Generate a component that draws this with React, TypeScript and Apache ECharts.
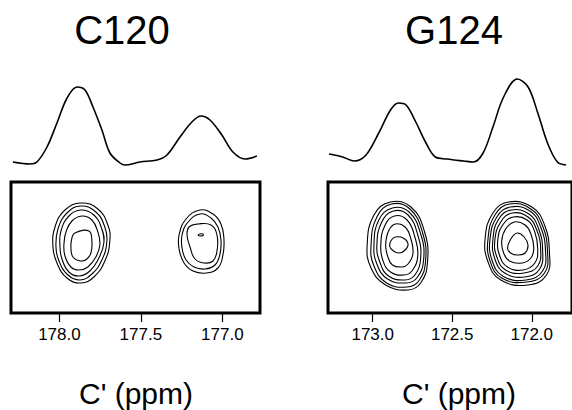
import { useEffect, useRef } from "react";
import * as echarts from "echarts";

// ---------- 1D C' traces (ppm, intensity) ----------
const C120_PPM = [178.285, 178.18, 178.138, 178.076, 178.015, 177.953, 177.892, 177.843, 177.794, 177.739, 177.69, 177.628, 177.598, 177.506, 177.401, 177.34, 177.26, 177.187, 177.131, 177.076, 177.003, 176.935, 176.861, 176.788];
const C120_INT = [8, 6, 8, 23, 47, 72, 83, 80, 63, 40, 17, 7, 5, 8, 10, 15, 33, 48, 54, 50, 35, 18, 11, 14];
const G124_PPM = [173.275, 173.189, 173.115, 173.042, 172.962, 172.888, 172.839, 172.79, 172.729, 172.668, 172.606, 172.533, 172.428, 172.367, 172.306, 172.244, 172.177, 172.091, 172.023, 171.962, 171.901, 171.839, 171.784];
const G124_INT = [16, 13, 9, 15, 37, 60, 67, 65, 48, 28, 13, 11, 9, 8, 17, 43, 73, 91, 83, 57, 27, 8, 5];

// ---------- axis ranges and ticks ----------
const C120_RANGE = [176.769, 178.297];
const G124_RANGE = [171.747, 173.281];
const C120_TICKS = [177.0, 177.5, 178.0];
const G124_TICKS = [172.0, 172.5, 173.0];
const F1_RANGE = [0, 131];
const INT_RANGE = [0, 100];

// 13C frequency (MHz) used to turn Hz offsets into ppm
const SF_MHZ = 163.4;

// ---------- 2D contour peaks: centre [ppm, F1] and rings of [offset Hz (upfield), offset F1] ----------
const C120_PEAK_A = [177.868, 70];
const C120_RINGS_A = [
  [[0, 40], [17, 34], [27, 18], [29, 2], [24, -18], [13, -34], [0, -40], [-14, -35], [-24, -20], [-28, -4], [-26, 16], [-16, 33]],
  [[0, 37], [15, 31], [24, 16], [26, 1], [21, -17], [11, -31], [-1, -37], [-13, -32], [-22, -18], [-25, -4], [-23, 14], [-14, 30]],
  [[0, 33], [13, 28], [21, 14], [23, 0], [18, -15], [9, -28], [-2, -33], [-12, -29], [-19, -16], [-21, -3], [-20, 12], [-12, 27]],
  [[1, 27], [11, 23], [17, 11], [19, -2], [15, -14], [7, -24], [-2, -27], [-10, -24], [-16, -13], [-17, -1], [-15, 11], [-9, 22]],
  [[-6, 10], [8, 12], [11, 2], [10, -10], [6, -16], [0, -18], [-8, -14], [-10, -4], [-9, 5]],
];
const C120_PEAK_B = [177.131, 72];
const C120_RINGS_B = [
  [[-1, 31], [12, 27], [20, 17], [23, 2], [22, -14], [17, -27], [5, -32], [-8, -30], [-17, -22], [-22, -8], [-22, 6], [-15, 22]],
  [[-1, 27], [10, 23], [17, 14], [20, 1], [19, -13], [14, -24], [4, -28], [-7, -26], [-15, -19], [-19, -7], [-19, 6], [-13, 19]],
  [[-12, 14], [-3, 17], [10, 16], [16, 6], [16, -10], [12, -20], [3, -22], [-6, -18], [-11, -6], [-14, 6]],
  [[-3, 6], [-1, 7], [2, 7], [2, 5.5], [-1, 5]],
];
const G124_PEAK_C = [172.839, 67];
const G124_RINGS_C = [
  [[-8, 44], [13, 39], [27, 14], [30, -16], [23, -37], [10, -44], [-13, -39], [-28, -22], [-32, 1], [-25, 31]],
  [[-7, 42], [12, 37], [25, 13], [28, -15], [21, -35], [9, -41], [-12, -37], [-25, -20], [-28, 1], [-22, 29]],
  [[-6, 38], [11, 34], [23, 12], [26, -14], [19, -32], [8, -37], [-11, -33], [-22, -18], [-25, 1], [-20, 26]],
  [[-5, 35], [10, 31], [20, 11], [23, -12], [17, -29], [7, -34], [-10, -30], [-19, -16], [-22, 1], [-17, 24]],
  [[-4, 30], [9, 26], [17, 9], [20, -10], [14, -25], [6, -29], [-8, -26], [-16, -14], [-18, 1], [-14, 20]],
  [[-3, 22], [7, 19], [13, 7], [15, -8], [10, -18], [4, -21], [-6, -19], [-11, -10], [-13, 1], [-10, 15]],
  [[-3, 9], [5, 8], [10, 2], [7, -4], [1, -7], [-5, -5], [-9, 0], [-7, 6]],
];
const G124_PEAK_D = [172.091, 69];
const G124_RINGS_D = [
  [[-9, 42], [15, 37], [28, 19], [33, -8], [30, -31], [11, -41], [-17, -36], [-30, -18], [-33, 6], [-25, 31]],
  [[-8, 40], [14, 35], [26, 18], [31, -7], [28, -29], [10, -38], [-16, -34], [-28, -17], [-30, 6], [-23, 29]],
  [[-7, 37], [13, 33], [24, 17], [29, -7], [26, -27], [9, -36], [-15, -32], [-26, -16], [-28, 5], [-21, 27]],
  [[-6, 34], [12, 30], [22, 15], [26, -6], [23, -25], [8, -33], [-13, -29], [-23, -15], [-25, 5], [-19, 25]],
  [[-5, 31], [11, 27], [20, 14], [24, -5], [21, -22], [7, -29], [-12, -26], [-21, -13], [-23, 4], [-17, 22]],
  [[-4, 27], [10, 24], [18, 12], [21, -5], [18, -19], [6, -26], [-10, -23], [-18, -12], [-20, 4], [-15, 19]],
  [[-3, 22], [8, 19], [14, 10], [17, -4], [14, -14], [5, -19], [-8, -17], [-14, -9], [-16, 3], [-12, 15]],
  [[0, 11], [7, 7], [11, -1], [8, -9], [0, -11], [-7, -9], [-10, -4], [-6, 6]],
];

const TITLES = ["C120", "G124"];
const AXIS_NAME = "C' (ppm)";

const FONT = 'Arial, "Liberation Sans", Helvetica, sans-serif';

function toPpmRings(center: number[], rings: number[][][]) {
  return rings.map((r) => r.map(([dHz, dF1]) => [center[0] - dHz / SF_MHZ, center[1] + dF1]));
}

function contourSeries(axisIdx: number, rings: number[][][]) {
  return {
    type: "custom",
    xAxisIndex: axisIdx,
    yAxisIndex: axisIdx,
    clip: true,
    silent: true,
    data: rings.map((r) => r[0]),
    renderItem: (params: any, api: any) => {
      const ring = rings[params.dataIndex];
      const pts = ring.map((p) => api.coord(p));
      return {
        type: "polygon",
        shape: { points: pts, smooth: 0.45 },
        style: { fill: "none", stroke: "#000", lineWidth: 1.1 },
      };
    },
  };
}

function zip(a: number[], b: number[]) {
  return a.map((v, i) => [v, b[i]]);
}

export default function App() {
  const ref = useRef<HTMLDivElement>(null);
  useEffect(() => {
    const chart = echarts.init(ref.current!, null, { renderer: "svg" });
    const leftRings = [
      ...toPpmRings(C120_PEAK_A, C120_RINGS_A),
      ...toPpmRings(C120_PEAK_B, C120_RINGS_B),
    ];
    const rightRings = [
      ...toPpmRings(G124_PEAK_C, G124_RINGS_C),
      ...toPpmRings(G124_PEAK_D, G124_RINGS_D),
    ];
    const boxAxis = (range: number[], ticks: number[], grid: number) => ({
      type: "value",
      gridIndex: grid,
      min: range[0],
      max: range[1],
      inverse: true,
      axisLine: { show: false },
      splitLine: { show: false },
      axisTick: {
        show: true,
        length: 9,
        lineStyle: { color: "#000", width: 1.2 },
        customValues: ticks,
      },
      axisLabel: {
        customValues: ticks,
        formatter: (v: number) => v.toFixed(1),
        color: "#000",
        fontSize: 17,
        fontFamily: FONT,
        margin: 13,
      },
    });
    const specAxis = (range: number[], grid: number) => ({
      type: "value",
      gridIndex: grid,
      min: range[0],
      max: range[1],
      inverse: true,
      show: false,
    });
    const boxGrid = { show: true, borderColor: "#000", borderWidth: 3, backgroundColor: "transparent" };
    const txt = (text: string, x: number, y: number, size: number) => ({
      type: "text",
      x,
      y,
      style: { text, font: `${size}px ${FONT}`, fill: "#000", align: "center", verticalAlign: "middle" },
    });
    chart.setOption({
      animation: false,
      backgroundColor: "#fff",
      grid: [
        { left: 11, top: 70, width: 249, height: 100 },
        { left: 11, top: 182, width: 249, height: 131, ...boxGrid },
        { left: 328, top: 70, width: 250, height: 100 },
        { left: 328, top: 182, width: 250, height: 131, ...boxGrid },
      ],
      xAxis: [
        specAxis(C120_RANGE, 0),
        boxAxis(C120_RANGE, C120_TICKS, 1),
        specAxis(G124_RANGE, 2),
        boxAxis(G124_RANGE, G124_TICKS, 3),
      ],
      yAxis: [0, 1, 2, 3].map((g) => ({
        type: "value",
        gridIndex: g,
        min: g % 2 === 0 ? INT_RANGE[0] : F1_RANGE[0],
        max: g % 2 === 0 ? INT_RANGE[1] : F1_RANGE[1],
        show: false,
      })),
      series: [
        {
          type: "line",
          xAxisIndex: 0,
          yAxisIndex: 0,
          data: zip(C120_PPM, C120_INT),
          smooth: 0.35,
          symbol: "none",
          lineStyle: { color: "#000", width: 1.6 },
          silent: true,
        },
        {
          type: "line",
          xAxisIndex: 2,
          yAxisIndex: 2,
          data: zip(G124_PPM, G124_INT),
          smooth: 0.35,
          symbol: "none",
          lineStyle: { color: "#000", width: 1.6 },
          silent: true,
        },
        contourSeries(1, leftRings),
        contourSeries(3, rightRings),
      ],
      graphic: [
        txt(TITLES[0], 122, 30, 40),
        txt(TITLES[1], 454, 30, 40),
        txt(AXIS_NAME, 136, 393, 30),
        txt(AXIS_NAME, 459, 393, 30),
      ],
    });
    return () => chart.dispose();
  }, []);
  return <div ref={ref} style={{ position: "fixed", left: 0, top: 0, width: 572, height: 410 }} />;
}
